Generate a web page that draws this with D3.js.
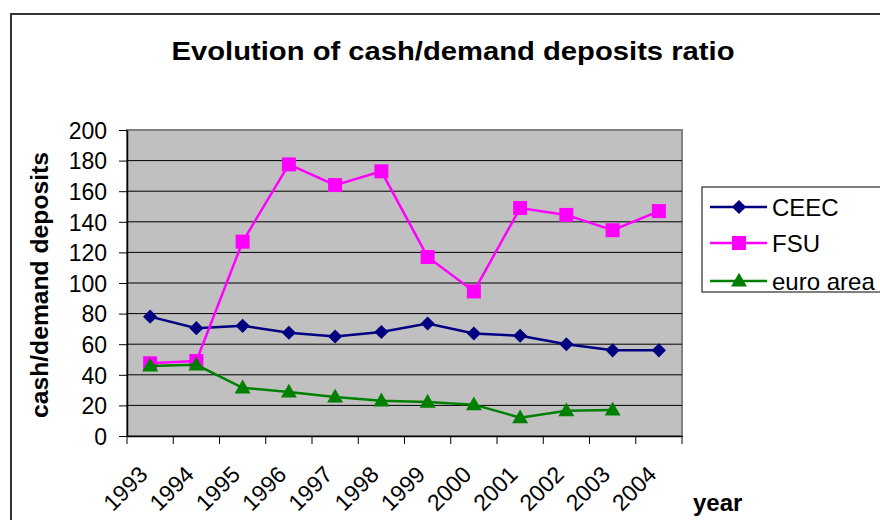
<!DOCTYPE html>
<html>
<head>
<meta charset="utf-8">
<script src="https://cdn.jsdelivr.net/npm/d3@7"></script>
<style>
  html, body { margin: 0; padding: 0; background: #fff; }
  svg { display: block; font-family: Arial, "Liberation Sans", sans-serif; }
</style>
</head>
<body>
<svg id="chart" width="880" height="520"></svg>
<script>
const years = ["1993","1994","1995","1996","1997","1998","1999","2000","2001","2002","2003","2004"];
const ceec = [78, 70.5, 72, 67.5, 65, 68, 73.5, 67, 65.5, 60, 56, 56];
const fsu = [47.5, 49, 127, 177.5, 164, 173, 117, 94.5, 149, 144.5, 134.5, 147];
const euroArea = [45.8, 46.5, 31.5, 28.8, 25.5, 23, 22.2, 20.5, 12, 16.5, 17, null];
const yTicks = [0, 20, 40, 60, 80, 100, 120, 140, 160, 180, 200];
const seriesNames = ["CEEC", "FSU", "euro area"];
const seriesColors = ["#000080", "#FF00FF", "#008000"];

const svg = d3.select("#chart");
const plot = { left: 127, right: 682, top: 130, bottom: 436 };

const x = d3.scaleBand().domain(years).range([plot.left, plot.right]);
const y = d3.scaleLinear().domain([0, 200]).range([plot.bottom, plot.top]);

// outer frame (cropped on right/bottom)
svg.append("path")
  .attr("d", `M11,521 L11,14 L881,14`)
  .attr("fill", "none").attr("stroke", "#333").attr("stroke-width", 2);

// title
svg.append("text")
  .attr("x", 453).attr("y", 60)
  .attr("text-anchor", "middle")
  .attr("font-weight", "bold").attr("font-size", 26)
  .attr("textLength", 563).attr("lengthAdjust", "spacingAndGlyphs")
  .text("Evolution of cash/demand deposits ratio");

// plot background
svg.append("rect")
  .attr("x", plot.left).attr("y", plot.top)
  .attr("width", plot.right - plot.left).attr("height", plot.bottom - plot.top)
  .attr("fill", "#C0C0C0").attr("stroke", "#808080").attr("stroke-width", 2);

// gridlines
svg.append("g").selectAll("line")
  .data(yTicks.filter(d => d > 0 && d < 200))
  .join("line")
  .attr("x1", plot.left).attr("x2", plot.right)
  .attr("y1", d => y(d)).attr("y2", d => y(d))
  .attr("stroke", "#000").attr("stroke-width", 1);

// y axis
const yAxis = svg.append("g")
  .attr("transform", `translate(${plot.left},0)`)
  .call(d3.axisLeft(y).tickValues(yTicks).tickSize(8).tickPadding(12).tickSizeOuter(0));
yAxis.select(".domain").attr("stroke", "#000").attr("stroke-width", 1.5);
yAxis.selectAll(".tick line").attr("stroke", "#000");
yAxis.selectAll(".tick text")
  .attr("font-size", 23).attr("font-family", "Arial, 'Liberation Sans', sans-serif")
  .attr("fill", "#000").attr("dy", "0.36em");

// x axis
const xAxis = svg.append("g")
  .attr("transform", `translate(0,${plot.bottom})`)
  .call(d3.axisBottom(x).tickSize(0).tickFormat(""));
xAxis.select(".domain").attr("stroke", "#000").attr("stroke-width", 1.5);
xAxis.selectAll(".tick").remove();
const bounds = years.map(d => x(d)).concat([plot.right]);
xAxis.selectAll("line.xt").data(bounds).join("line").attr("class", "xt")
  .attr("x1", d => d).attr("x2", d => d).attr("y1", 0).attr("y2", 8)
  .attr("stroke", "#000");

svg.append("g").selectAll("text")
  .data(years).join("text")
  .attr("transform", d => `translate(${x(d) + x.bandwidth() / 2 - 1},${476}) rotate(-45)`)
  .attr("text-anchor", "end")
  .attr("font-size", 23)
  .text(d => d);

// axis titles
svg.append("text")
  .attr("transform", `translate(48,${(plot.top + plot.bottom) / 2 + 2}) rotate(-90)`)
  .attr("text-anchor", "middle")
  .attr("font-weight", "bold").attr("font-size", 24)
  .attr("textLength", 266).attr("lengthAdjust", "spacingAndGlyphs")
  .text("cash/demand deposits");
svg.append("text")
  .attr("x", 693).attr("y", 511)
  .attr("font-weight", "bold").attr("font-size", 24)
  .text("year");

// series
const seriesData = [ceec, fsu, euroArea];
const symbols = [
  { type: d3.symbolSquare, size: 100, rot: 45 },
  { type: d3.symbolSquare, size: 196, rot: 0 },
  { type: d3.symbolTriangle, size: 110, rot: 0 }
];
const cx = d => x(d) + x.bandwidth() / 2;

seriesData.forEach((vals, i) => {
  const pts = years.map((yr, j) => ({ yr, v: vals[j] })).filter(p => p.v != null);
  const line = d3.line().x(p => cx(p.yr)).y(p => y(p.v));
  svg.append("path").datum(pts)
    .attr("d", line).attr("fill", "none")
    .attr("stroke", seriesColors[i]).attr("stroke-width", 2.5);
  svg.append("g").selectAll("path").data(pts).join("path")
    .attr("d", d3.symbol().type(symbols[i].type).size(symbols[i].size))
    .attr("transform", p => `translate(${cx(p.yr)},${y(p.v) + (i === 2 ? 1 : 0)}) rotate(${symbols[i].rot})`)
    .attr("fill", seriesColors[i]);
});

// legend
const legend = svg.append("g");
legend.append("rect")
  .attr("x", 702).attr("y", 187).attr("width", 200).attr("height", 105)
  .attr("fill", "#fff").attr("stroke", "#000").attr("stroke-width", 1);
const rowY = [207, 243, 281];
seriesNames.forEach((name, i) => {
  const g = legend.append("g").attr("transform", `translate(0,${rowY[i]})`);
  g.append("line").attr("x1", 710).attr("x2", 767).attr("y1", 0).attr("y2", 0)
    .attr("stroke", seriesColors[i]).attr("stroke-width", 2.5);
  g.append("path")
    .attr("d", d3.symbol().type(symbols[i].type).size(symbols[i].size))
    .attr("transform", `translate(739,${i === 2 ? 1 : 0}) rotate(${symbols[i].rot})`)
    .attr("fill", seriesColors[i]);
  g.append("text").attr("x", 772).attr("y", 0).attr("dy", "0.36em")
    .attr("font-size", 24).text(name);
});
</script>
</body>
</html>
